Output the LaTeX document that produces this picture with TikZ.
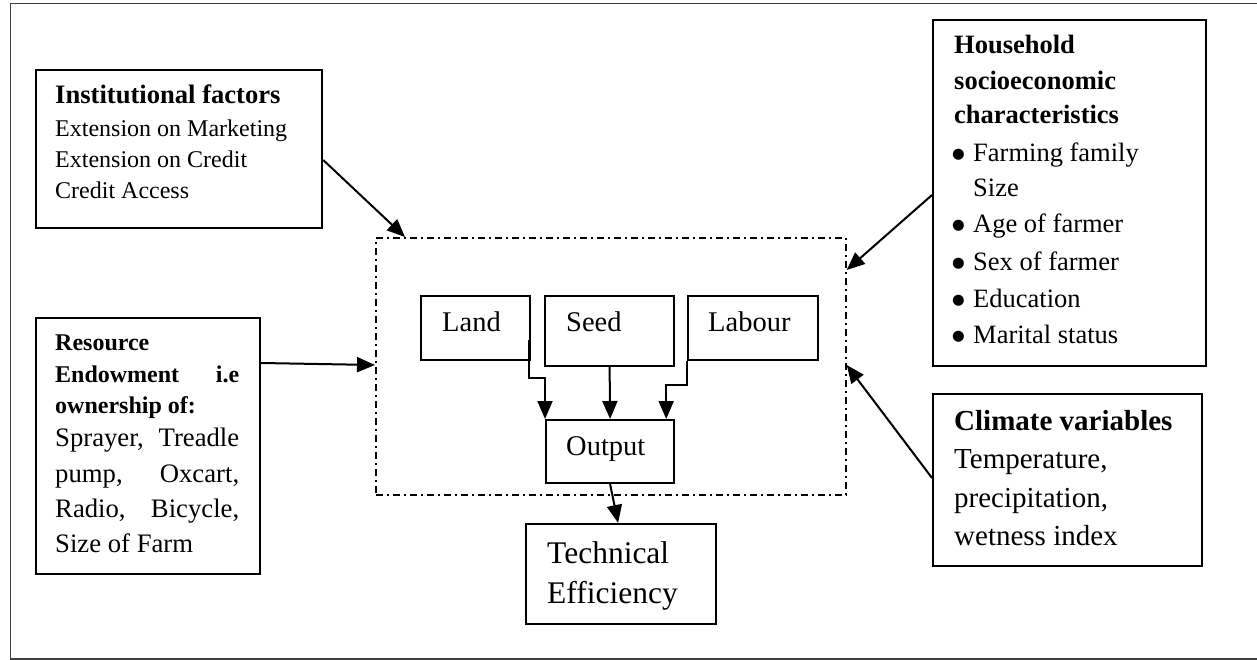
\documentclass[tikz,border=0pt]{standalone}
\usepackage{fontspec}
\setmainfont{Liberation Serif}
\newfontfamily\symfont{DejaVu Sans}
\usetikzlibrary{arrows.meta,calc}
\newcommand\myfs[1]{\fontsize{#1}{#1}\selectfont}
\begin{document}
\begin{tikzpicture}[x=1pt,y=-1pt,
  frame/.style={draw=black!75, line width=1.5pt, inner sep=0, anchor=north west},
  box/.style={draw=black, line width=2.2pt, inner sep=0, anchor=north west},
  core/.style={draw=black, line width=1.7pt, dash pattern=on 7pt off 4pt on 2pt off 4pt, inner sep=0, anchor=north west},
  txt/.style={inner sep=0, anchor=base west},
  bul/.style={inner sep=0, anchor=base west, font=\symfont\myfs{14.5}},
  arr/.style={draw=black, line width=2pt, -{Triangle[length=18pt,width=15pt]}}]
\useasboundingbox (0,0) rectangle (1257,660);
% outer frame
\node[frame, minimum width=1249pt, minimum height=655pt] (outer) at (9.5,3) {};
% boxes
\node[box, minimum width=286pt, minimum height=158pt] (ins) at (35,69) {};
\node[box, minimum width=224pt, minimum height=256pt] (res) at (35,317) {};
\node[box, minimum width=273pt, minimum height=346pt] (hh) at (932,19) {};
\node[box, minimum width=269pt, minimum height=172pt] (cli) at (932,393) {};
\node[core, minimum width=470pt, minimum height=257pt] (core) at (375,237) {};
\node[box, minimum width=109pt, minimum height=64pt] (land) at (420,295) {};
\node[box, minimum width=129pt, minimum height=70pt] (seed) at (544,295) {};
\node[box, minimum width=130pt, minimum height=64pt] (lab) at (687,295) {};
\node[box, minimum width=128pt, minimum height=63pt] (out) at (545,419) {};
\node[box, minimum width=190pt, minimum height=100pt] (te) at (525,523) {};
% institutional text
\node[txt] (ins1) at (55,104) {\myfs{26.6}\bfseries Institutional factors};
\node[txt] (ins2) at (55,137) {\myfs{24}Extension on Marketing};
\node[txt] (ins3) at (55,168) {\myfs{24}Extension on Credit};
\node[txt] (ins4) at (55,199) {\myfs{24}Credit Access};
% resource text
\node[txt] (res1) at (55,350) {\myfs{24}\bfseries Resource};
\node[txt] (res2) at (55,382) {\myfs{24}\bfseries\makebox[184pt][s]{Endowment i.e}};
\node[txt] (res3) at (55,413) {\myfs{24}\bfseries ownership of:};
\node[txt] (res4) at (55,446) {\myfs{26.7}\makebox[184pt][s]{Sprayer, Treadle}};
\node[txt] (res5) at (55,482) {\myfs{26.7}\makebox[184pt][s]{pump, Oxcart,}};
\node[txt] (res6) at (55,517) {\myfs{26.7}\makebox[184pt][s]{Radio, Bicycle,}};
\node[txt] (res7) at (55,552) {\myfs{26.7}Size of Farm};
% household text
\node[txt] (hh1) at (954,54) {\myfs{26.5}\bfseries Household};
\node[txt] (hh2) at (954,90) {\myfs{26.5}\bfseries socioeconomic};
\node[txt] (hh3) at (954,124) {\myfs{26.5}\bfseries characteristics};
\node[bul] (hb1) at (952,159) {●};
\node[txt] (hh4) at (973,162) {\myfs{26.5}Farming family};
\node[txt] (hh5) at (973,197) {\myfs{26.5}Size};
\node[bul] (hb2) at (952,230) {●};
\node[txt] (hh6) at (973,233) {\myfs{26.5}Age of farmer};
\node[bul] (hb3) at (952,267) {●};
\node[txt] (hh7) at (973,270) {\myfs{26.5}Sex of farmer};
\node[bul] (hb4) at (952,304) {●};
\node[txt] (hh8) at (973,307) {\myfs{26.5}Education};
\node[bul] (hb5) at (952,340) {●};
\node[txt] (hh9) at (973,343) {\myfs{26.5}Marital status};
% climate text
\node[txt] (cl1) at (954,430) {\myfs{29}\bfseries Climate variables};
\node[txt] (cl2) at (954,468) {\myfs{29}Temperature,};
\node[txt] (cl3) at (954,507) {\myfs{29}precipitation,};
\node[txt] (cl4) at (954,545) {\myfs{29}wetness index};
% inner texts
\node[txt] (landt) at (442,331) {\myfs{28.5}Land};
\node[txt] (seedt) at (566,331) {\myfs{28.5}Seed};
\node[txt] (labt) at (708,331) {\myfs{28.5}Labour};
\node[txt] (outt) at (566,455) {\myfs{28.5}Output};
\node[txt] (te1) at (547,563) {\myfs{31.5}Technical};
\node[txt] (te2) at (547,603) {\myfs{31.5}Efficiency};
% arrows into core
\draw[arr] ($(ins.north east)+(0,91)$) -- ($(core.north west)+(30,0)$);
\draw[arr] ($(res.north east)+(0,46)$) -- ($(core.north west)+(0,128)$);
\draw[arr] ($(hh.north west)+(0,176)$) -- ($(core.north east)+(0,33)$);
\draw[arr] ($(cli.north west)+(0,85)$) -- ($(core.north east)+(0,128)$);
% inner arrows
\draw[arr] ($(land.north east)+(-2,45)$) |- ($(out.north west)+(0,-41)$) -- (out.north west);
\draw[arr] (seed.south) -- (out.north);
\draw[arr] (lab.south west) |- ($(out.north east)+(-9,-34)$) -- ($(out.north east)+(-9,0)$);
\draw[arr] (out.south) -- ($(te.north)+(-3,0)$);
\end{tikzpicture}
\end{document}
